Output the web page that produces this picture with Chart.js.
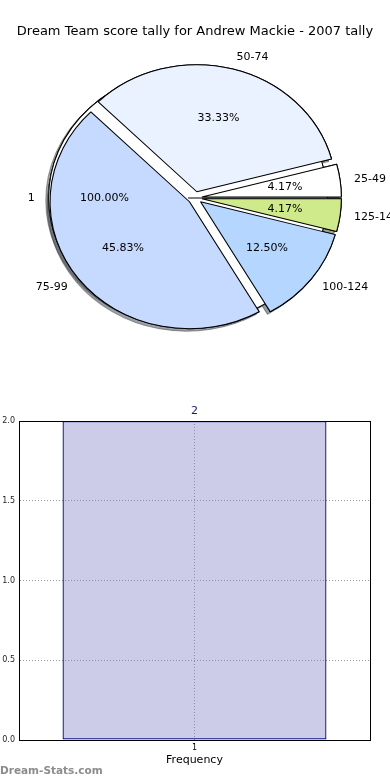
<!DOCTYPE html>
<html>
<head>
<meta charset="utf-8">
<script src="https://cdn.jsdelivr.net/npm/chart.js@4.4.1/dist/chart.umd.min.js"></script>
<style>
  body { margin: 0; background: #fff; }
  #page { position: relative; width: 390px; height: 780px; overflow: hidden; font-family: "DejaVu Sans", sans-serif; }
  canvas { position: absolute; left: 0; }
  #mark { position: absolute; left: 0; top: 764px; font-size: 10.5px; font-weight: bold; color: #8c8c8c; }
</style>
</head>
<body>
<div id="page">
  <canvas id="pieBack" width="390" height="348" style="top:0"></canvas>
  <canvas id="pie" width="390" height="348" style="top:0"></canvas>
  <canvas id="bars" width="390" height="380" style="top:400px"></canvas>
  <div id="mark">Dream-Stats.com</div>
</div>
<script>
// score bands, counted anticlockwise from 3 o'clock like the original
const bands = ["25-49", "50-74", "75-99", "100-124", "125-149"];
const bandCounts = [1, 8, 11, 3, 1];
const bandColors = ["#ffffff", "#eaf2ff", "#c6d9ff", "#b4d6ff", "#cfea8a"];

// the single-slice pie sitting behind it
const wholeLabels = ["1"];
const wholeCounts = [1];

// frequency bars
const barLabels = ["1"];
const barValues = [2];
const barTitle = "2";

const RADIUS = 127;
const STRETCH = 1.098; // the pie is drawn a bit wider than tall
const EXPLODE = 0.05;
const SHADOW_X = -2.8, SHADOW_Y = 2.5;
const FONT = '"DejaVu Sans", sans-serif';

// chart.js goes clockwise, so feed the bands in reverse
const rev = arr => arr.slice().reverse();

function frame(chart) {
  const arcs = chart.getDatasetMeta(0).data;
  return { arcs, cx: arcs[0].x, cy: arcs[0].y, r: arcs[0].outerRadius };
}

function place(ctx, a, f) {
  ctx.translate(f.cx, f.cy);
  ctx.scale(STRETCH, 1);
  ctx.translate(-f.cx, -f.cy);
  const mid = (a.startAngle + a.endAngle) / 2;
  ctx.translate(Math.cos(mid) * EXPLODE * f.r, Math.sin(mid) * EXPLODE * f.r);
}

function shade(hex) {
  const n = parseInt(hex.slice(1), 16);
  const c = [(n >> 16) & 255, (n >> 8) & 255, n & 255].map(v => Math.round(v * 0.3));
  return "rgba(" + c.join(",") + ",0.5)";
}

let backChart = null;

const pieDraw = {
  id: "pieDraw",
  beforeDatasetsDraw(chart, args, opts) {
    const ctx = chart.ctx;
    const f = frame(chart);
    ctx.save();
    if (opts.behind && backChart) {
      // shadows only show outside the white pie underneath
      const b = frame(backChart);
      ctx.beginPath();
      ctx.rect(0, 0, chart.width, chart.height);
      ctx.ellipse(b.cx - STRETCH * EXPLODE * b.r, b.cy, STRETCH * b.r, b.r, 0, 0, Math.PI * 2);
      ctx.clip("evenodd");
    }
    f.arcs.forEach(a => {
      ctx.save();
      place(ctx, a, f);
      ctx.shadowColor = shade(a.options.backgroundColor);
      ctx.shadowOffsetX = SHADOW_X;
      ctx.shadowOffsetY = SHADOW_Y;
      a.draw(ctx);
      ctx.restore();
    });
    ctx.restore();
    f.arcs.forEach(a => {
      ctx.save();
      place(ctx, a, f);
      a.draw(ctx);
      ctx.restore();
    });
    return false;
  }
};

function drawLabels(ctx, chart, names, counts) {
  const f = frame(chart);
  const total = counts.reduce((s, v) => s + v, 0);
  ctx.save();
  ctx.font = "11px " + FONT;
  ctx.fillStyle = "#000";
  ctx.textBaseline = "middle";
  f.arcs.forEach((a, i) => {
    const mid = (a.startAngle + a.endAngle) / 2;
    const c = Math.cos(mid), s = Math.sin(mid);
    const at = k => [f.cx + STRETCH * f.r * (EXPLODE + k) * c, f.cy + f.r * (EXPLODE + k) * s];
    let p = at(1.1);
    ctx.textAlign = c > 0 ? "left" : "right";
    ctx.fillText(names[i], p[0], p[1]);
    p = at(0.6);
    ctx.textAlign = "center";
    ctx.fillText((counts[i] / total * 100).toFixed(2) + "%", p[0], p[1]);
  });
  ctx.restore();
}

const pieLabels = {
  id: "pieLabels",
  afterDraw(chart) {
    if (backChart) drawLabels(chart.ctx, backChart, wholeLabels, wholeCounts);
    drawLabels(chart.ctx, chart, rev(bands), rev(bandCounts));
  }
};

Chart.defaults.font.family = FONT;

const pieBase = {
  responsive: false,
  animation: false,
  events: [],
  rotation: 90,
  radius: RADIUS,
  plugins: { legend: { display: false }, tooltip: { enabled: false } }
};

backChart = new Chart(document.getElementById("pieBack"), {
  type: "pie",
  data: {
    labels: wholeLabels,
    datasets: [{ data: wholeCounts, backgroundColor: "#ffffff", borderColor: "#000", borderWidth: 1 }]
  },
  options: { ...pieBase, layout: { padding: { top: 47.8 } } },
  plugins: [pieDraw]
});

new Chart(document.getElementById("pie"), {
  type: "pie",
  data: {
    labels: rev(bands),
    datasets: [{ data: rev(bandCounts), backgroundColor: rev(bandColors), borderColor: "#000", borderWidth: 1 }]
  },
  options: {
    ...pieBase,
    plugins: {
      ...pieBase.plugins,
      pieDraw: { behind: true },
      title: {
        display: true,
        text: "Dream Team score tally for Andrew Mackie - 2007 tally",
        color: "#000",
        font: { size: 13, weight: "normal" },
        padding: { top: 24.2, bottom: 8 }
      }
    }
  },
  plugins: [pieDraw, pieLabels]
});

const boxFrame = {
  id: "boxFrame",
  afterDraw(chart) {
    const { ctx, chartArea: a } = chart;
    ctx.save();
    ctx.strokeStyle = "#000";
    ctx.lineWidth = 1;
    ctx.strokeRect(Math.round(a.left) + 0.5, Math.round(a.top) + 0.5, Math.round(a.right - a.left), Math.round(a.bottom - a.top));
    ctx.restore();
  }
};

new Chart(document.getElementById("bars"), {
  type: "bar",
  data: {
    labels: barLabels,
    datasets: [{
      data: barValues,
      // see-through so the dotted grid shows across the bar
      backgroundColor: "rgba(120,120,195,0.38)",
      borderColor: "#000080",
      borderWidth: 1.2,
      borderSkipped: false,
      barPercentage: 0.752,
      categoryPercentage: 1
    }]
  },
  options: {
    responsive: false,
    animation: false,
    events: [],
    layout: { padding: { right: 20 } },
    plugins: {
      legend: { display: false },
      tooltip: { enabled: false },
      title: {
        display: true,
        fullSize: false,
        text: barTitle,
        color: "#1a1a6e",
        font: { size: 11, weight: "normal" },
        padding: { top: 5, bottom: 2.8 }
      }
    },
    scales: {
      x: {
        afterFit: s => { s.height = 40; },
        grid: { offset: false, color: "#999", drawTicks: false },
        border: { color: "#000", width: 1, dash: [1, 2] },
        ticks: { color: "#000", font: { size: 8 }, padding: 3 },
        title: { display: true, text: "Frequency", color: "#000", font: { size: 11 }, padding: { top: 0, bottom: 13.4 } }
      },
      y: {
        min: 0,
        max: 2,
        afterFit: s => { s.width = 19; },
        grid: { color: "#999", drawTicks: false },
        border: { color: "#000", width: 1, dash: [1, 2] },
        ticks: { stepSize: 0.5, color: "#222", font: { size: 8 }, padding: 4, callback: v => v.toFixed(1) }
      }
    }
  },
  plugins: [boxFrame]
});
</script>
</body>
</html>
